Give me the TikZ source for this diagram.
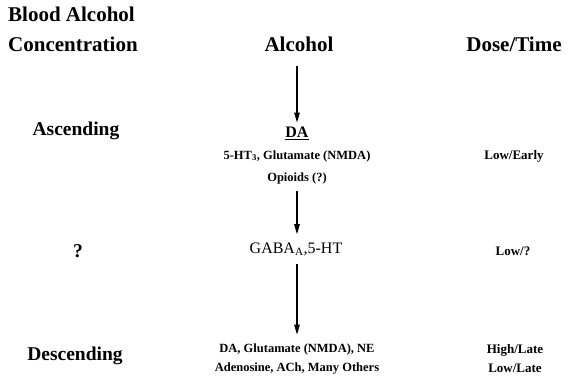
\documentclass[tikz,border=0pt]{standalone}
\usepackage{fontspec}
\setmainfont{Liberation Serif}
\usetikzlibrary{arrows.meta}

\tikzset{
  head/.style={font=\bfseries\fontsize{21}{30}\selectfont, inner sep=0pt},
  side/.style={font=\bfseries\fontsize{19.5}{21}\selectfont, inner sep=0pt},
  mid/.style={font=\bfseries\fontsize{12.5}{19}\selectfont, align=center, inner sep=0pt},
  dose/.style={font=\bfseries\fontsize{13}{19}\selectfont, align=center, inner sep=0pt},
  flow/.style={-{Triangle[length=10pt,width=5.5pt]}, line width=1.2pt}
}

\begin{document}
\begin{tikzpicture}[x=1pt,y=-1pt]
  \useasboundingbox (0,0) rectangle (571,378);
  % column heads
  \node[head, align=left, anchor=north west] (bac) at (8,7) {Blood Alcohol\\Concentration};
  \node[head] (alc) at (299,44) {Alcohol};
  \node[head] (dt) at (514,44) {Dose/Time};

  % left column
  \node[side] (asc) at (76,131) {Ascending};
  \node[side] (unk) at (78,251) {?};
  \node[side] (desc) at (75,356) {Descending};

  % middle column
  \node[mid, font=\bfseries\fontsize{16}{18}\selectfont] (da) at (297,133) {\underline{DA}};
  \node[mid] (ht) at (297,156) {5-HT\textsubscript{3}, Glutamate (NMDA)};
  \node[mid] (opi) at (297,178) {Opioids (?)};
  \node[font=\fontsize{16}{18}\selectfont, inner sep=0pt] (gaba) at (296,249) {GABA\textsubscript{A},5-HT};
  \node[mid] (many) at (297,359) {DA, Glutamate (NMDA), NE\\Adenosine, ACh, Many Others};

  % right column
  \node[dose] (le) at (514,156) {Low/Early};
  \node[dose] (lq) at (513,251) {Low/?};
  \node[dose] (hl) at (515,359) {High/Late\\Low/Late};

  \draw[flow, shorten <=14pt, shorten >=4pt] (alc.south -| da.north) -- (da.north);
  \draw[flow, shorten <=7pt, shorten >=8pt] (opi.south) -- (opi.south |- gaba.north);
  \draw[flow, shorten <=8pt, shorten >=9pt] (gaba.south -| opi.south) -- (opi.south |- many.north);
\end{tikzpicture}
\end{document}
